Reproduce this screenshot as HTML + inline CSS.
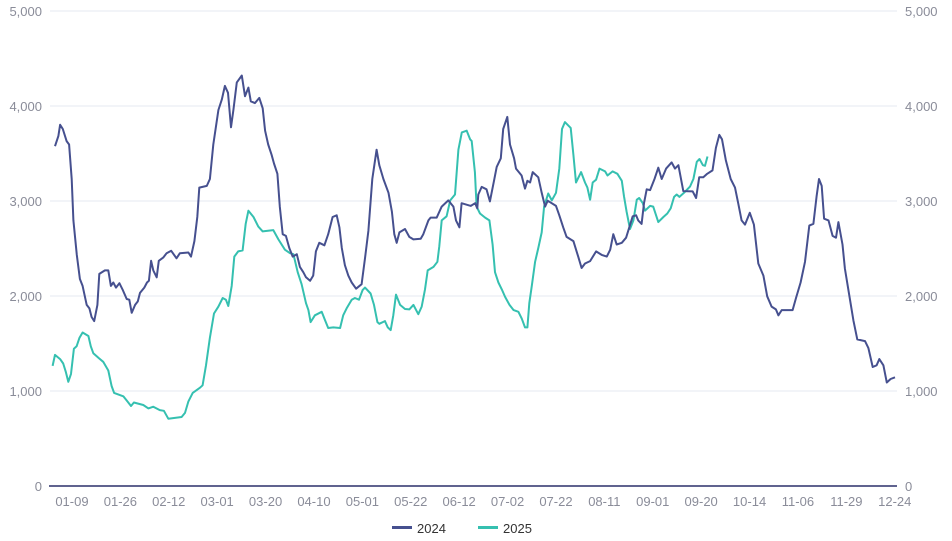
<!DOCTYPE html>
<html><head><meta charset="utf-8">
<style>
html,body{margin:0;padding:0;background:#fff;}
svg{display:block;font-family:"Liberation Sans",sans-serif;}
</style></head>
<body>
<svg id="chart" width="952" height="541" viewBox="0 0 952 541" xmlns="http://www.w3.org/2000/svg">
<g id="grid"></g>
<g id="yl"></g>
<g id="yr"></g>
<g id="xa"></g>
<g id="series"></g>
<g>
  <g>
    <rect x="392" y="526" width="20" height="3" fill="#46508f"></rect>
    <text x="417" y="533" font-size="13" fill="#333">2024</text>
  </g>
  <g>
    <rect x="478" y="526" width="20" height="3" fill="#35c0b0"></rect>
    <text x="503" y="533" font-size="13" fill="#333">2025</text>
  </g>
</g>
</svg>
<script>
const xTickIdx = [8,28,48,68,88,108,128,148,168,188,208,228,248,268,288,308,328,348];
const xTickLabels = ["01-09","01-26","02-12","03-01","03-20","04-10","05-01","05-22","06-12","07-02","07-22","08-11","09-01","09-20","10-14","11-06","11-29","12-24"];
const yTicks = [0,1000,2000,3000,4000,5000];
const yTickLabels = ["0","1,000","2,000","3,000","4,000","5,000"];
const idx2024 = [1,2.4,3.1,4.2,5.8,6.8,7.9,8.6,10,11.3,12.4,14.1,15.2,16.1,17.2,18.5,19.3,21.6,23,24.1,25.1,26.2,27.6,28.9,30.6,31.7,32.7,34.1,35.2,36.1,37.9,39,39.8,40.7,41.6,43,43.9,45.7,47.1,49,51.2,52.6,56.1,57.2,58.6,59.8,60.6,63.7,65,66.4,68.5,69.9,71.2,72.5,73.7,74.7,76.1,78.2,79.5,80.9,81.9,83.6,85.4,86.8,87.8,89.1,90.5,91.5,92.9,93.9,95.1,96.4,97.8,99.2,100.9,102.2,103.6,104.7,106.4,107.7,108.8,110.2,112.3,113.9,115.7,117.4,118.5,119.5,120.8,122.2,123.6,125.4,127.7,129.1,130.5,132.1,133.9,135,136.7,138.8,140.2,141.2,142.2,143.3,145.6,147.4,149.1,152.1,153.2,155.3,156.2,158.7,160.8,163.5,165.6,166.7,168.1,169,172.8,174.6,175.5,175.9,177.3,179.3,180.7,182.4,183.5,185.2,186.2,187.9,189,190.7,191.5,193.8,195.2,196.2,197.3,198.4,200.7,202.1,203.5,204.6,208,209.4,211,212.4,215.2,217.2,218.6,220,222.1,224.6,226.9,229,230.4,231.7,233.1,235.2,237,238.3,239.7,241.1,242,243.4,244.4,245.5,246.9,248.7,250.3,251.7,253.5,255.8,257.2,258.6,260.6,264.5,265.9,267.2,268.9,270.5,272.7,274.1,275.5,276.6,278.2,280.2,282,283.3,284.7,286.1,288.1,289.8,291.6,293.7,295.3,297.1,298.9,299.9,301.3,305.8,307.2,309.1,310.9,312.7,314.4,315.7,316.7,317.8,318.8,320.6,322.3,323.7,324.7,326.4,327.4,329.5,330.9,332.5,335.7,337.1,338.9,340.5,341.6,343.3,344.7,346.3,348.1];
const val2024 = [3577,3685,3802,3758,3631,3595,3232,2796,2433,2179,2106,1906,1870,1779,1736,1906,2233,2269,2269,2106,2142,2088,2135,2070,1968,1961,1823,1906,1943,2033,2088,2142,2160,2371,2269,2197,2371,2404,2451,2476,2397,2451,2458,2415,2578,2832,3141,3159,3232,3595,3958,4067,4212,4139,3776,3958,4248,4321,4103,4194,4049,4030,4085,3976,3740,3595,3486,3395,3286,2941,2651,2633,2505,2415,2440,2306,2251,2197,2160,2215,2469,2560,2534,2651,2832,2850,2723,2505,2324,2215,2142,2077,2124,2397,2687,3232,3540,3377,3232,3086,2887,2651,2560,2669,2705,2622,2596,2603,2651,2796,2825,2825,2941,3006,2941,2796,2723,2977,2948,2977,2923,3068,3148,3123,2996,3213,3359,3450,3758,3885,3595,3450,3341,3268,3130,3213,3195,3304,3250,3086,2941,3003,2948,2850,2723,2622,2578,2415,2295,2342,2367,2469,2433,2415,2487,2651,2542,2560,2614,2723,2839,2850,2796,2759,2977,3123,3115,3232,3351,3232,3341,3406,3341,3377,3104,3101,3032,3250,3250,3286,3322,3559,3696,3649,3431,3232,3141,2977,2796,2752,2876,2752,2342,2215,1997,1888,1859,1797,1852,1852,1979,2142,2360,2741,2760,3050,3232,3159,2814,2796,2633,2614,2778,2542,2288,1961,1743,1543,1525,1452,1253,1271,1336,1271,1089,1126,1144];
const idx2025 = [0,1,3.1,4.4,5.5,6.5,7.6,8.8,9.9,11.1,12.4,14.8,15.8,16.8,19.2,20.9,23,24.4,25.4,29.2,30.9,32.4,33.6,37.5,39.6,41.6,44.3,46,47.8,53.3,54.7,56.1,57.9,60.9,62,63.4,65,66.7,68.5,70.3,71.6,72.6,74,75.1,76.7,78.5,79.8,80.9,83,85,86.8,91.2,93.3,96,98.1,99.5,101.3,102.9,104.7,105.7,106.6,108.4,111.2,112.6,113.9,116,118.8,120.1,121.5,123.6,124.9,126.6,128.1,129.1,131.4,132.8,134.2,135,137.3,138.5,139.7,140.8,141.9,143.6,145.6,147.4,149.1,151.1,152.5,153.9,155,157.4,159,159.8,160.8,162.8,164.3,166.3,167.7,169.1,171.1,172.5,173.2,174.5,175.2,176.6,178.7,180.5,181.8,182.8,184.2,185.6,187,188.8,190.5,192.5,193.9,195.2,196.2,197,198,199.4,200.7,202.1,203.1,204.8,206.3,208,209.4,210.5,211.7,214.1,215.2,216.3,218.4,220,221,222.1,223.2,224.6,226,228.3,229.3,231.4,233.4,235.2,236.1,237.2,238.6,240,241.4,242.4,243.9,244.8,246.9,248.2,250.3,252.4,254,255.4,256.8,257.9,259,260.9,263.4,264.8,266.2,267.3,268.7,269.6,270.6];
const val2025 = [1264,1380,1336,1289,1198,1097,1180,1445,1471,1561,1616,1579,1471,1398,1343,1307,1216,1053,980,944,890,842,879,853,817,835,799,792,708,726,770,890,980,1035,1060,1271,1561,1816,1888,1979,1961,1895,2106,2415,2469,2480,2760,2898,2832,2731,2680,2694,2596,2487,2451,2440,2251,2124,1924,1852,1725,1797,1834,1743,1663,1670,1663,1797,1870,1961,1979,1961,2062,2088,2026,1906,1725,1707,1736,1670,1641,1797,2015,1906,1863,1859,1906,1808,1888,2070,2269,2306,2360,2524,2796,2839,3006,3068,3540,3722,3740,3649,3631,3304,2941,2868,2825,2796,2542,2251,2142,2070,1990,1906,1852,1834,1761,1670,1670,1924,2106,2360,2505,2669,2941,3079,3006,3086,3341,3758,3831,3769,3486,3195,3304,3195,3141,3014,3195,3224,3341,3312,3268,3312,3286,3213,3050,2887,2705,2796,3014,3032,2977,2898,2948,2941,2778,2832,2868,2923,3043,3068,3043,3086,3152,3232,3413,3442,3377,3370,3468];

const NS = "http://www.w3.org/2000/svg";
const X0 = 52.6, XS = 2.42, Y0 = 486, YTOP = 11;
const xs = i => X0 + i * XS;
const ys = v => Y0 - (v / 5000) * (Y0 - YTOP);
function mk(tag, attrs, parent) {
  const e = document.createElementNS(NS, tag);
  for (const k in attrs) e.setAttribute(k, attrs[k]);
  parent.appendChild(e);
  return e;
}
const grid = document.getElementById('grid'), yl = document.getElementById('yl'), yr = document.getElementById('yr'), xa = document.getElementById('xa'), series = document.getElementById('series');
yTicks.forEach((t, k) => {
  if (t > 0) {
    const g = mk('line', {x1: 50, x2: 897, y1: ys(t), y2: ys(t), stroke: '#e6e8f2', 'stroke-width': 1}, grid);
    
    
  }
  const a = mk('text', {x: 42, y: ys(t) + 5, 'text-anchor': 'end', 'font-size': 13, fill: '#8a8c99'}, yl);
  a.textContent = yTickLabels[k];
  
  
  const b = mk('text', {x: 905, y: ys(t) + 5, 'text-anchor': 'start', 'font-size': 13, fill: '#8a8c99'}, yr);
  b.textContent = yTickLabels[k];
  
  
});
const ax = mk('line', {x1: 49, x2: 897, y1: Y0, y2: Y0, stroke: '#60638f', 'stroke-width': 2}, xa);


xTickIdx.forEach((i, k) => {
  const t = mk('text', {x: xs(i), y: 506, 'text-anchor': 'middle', 'font-size': 13, fill: '#8a8c99'}, xa);
  t.textContent = xTickLabels[k];
  
  
});
function line(idx, vals, color, name) {
  const d = idx.map((i, k) => (k ? 'L' : 'M') + xs(i).toFixed(1) + ' ' + ys(vals[k]).toFixed(1)).join(' ');
  const p = mk('path', {d: d, fill: 'none', stroke: color, 'stroke-width': 2, 'stroke-linejoin': 'round'}, series);
  
  
}
line(idx2025, val2025, '#35c0b0', 'series-2025-line');
line(idx2024, val2024, '#46508f', 'series-2024-line');
</script>
</body></html>
